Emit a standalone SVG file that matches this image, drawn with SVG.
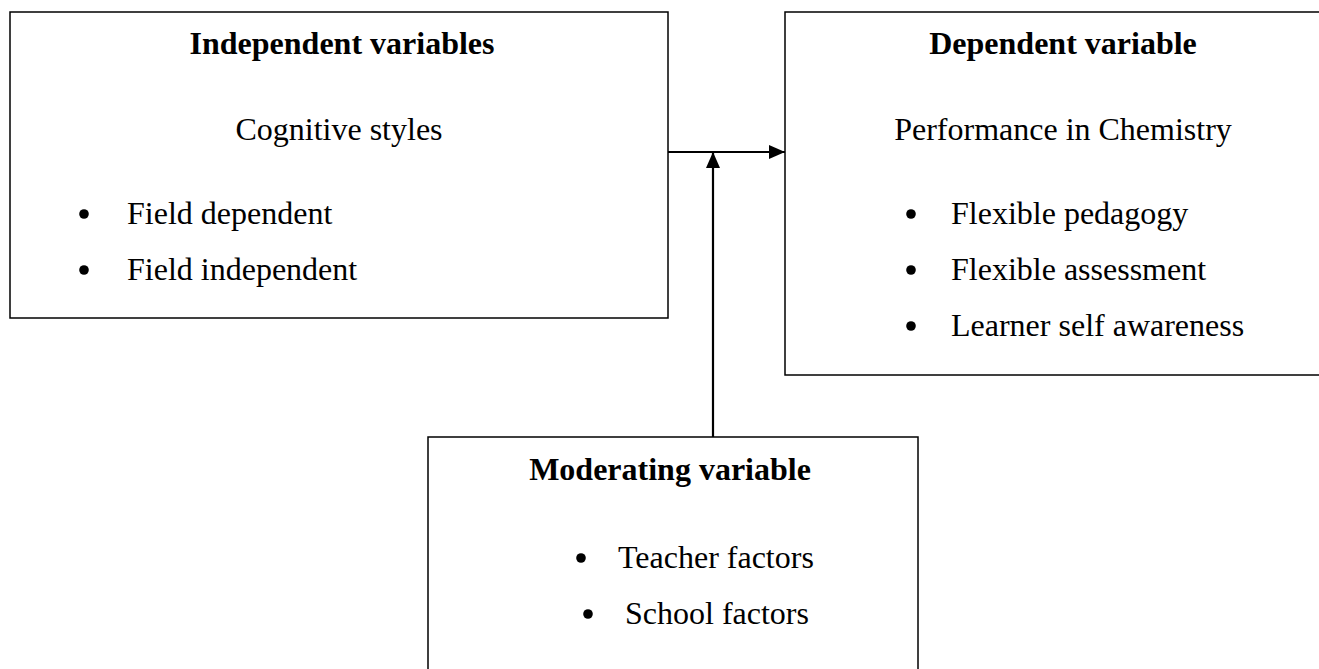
<svg xmlns="http://www.w3.org/2000/svg" width="1319" height="669" viewBox="0 0 1319 669">
<defs>
<style>
.box{fill:#fff;stroke:#000;stroke-width:1.5}
.t{font-family:"Liberation Serif","Times New Roman",serif;font-size:32px;fill:#000}
.h{font-weight:bold;text-anchor:middle}
.c{text-anchor:middle}
.line{stroke:#000;stroke-width:2.2;fill:none}
</style>
<marker id="arr" viewBox="0 0 16 14" refX="16" refY="7" markerWidth="16" markerHeight="14" markerUnits="userSpaceOnUse" orient="auto">
<path d="M0,0 L16,7 L0,14 z" fill="#000"/>
</marker>
</defs>
<rect width="1319" height="669" fill="#fff"/>
<g id="independent">
<rect class="box" x="10" y="12" width="658" height="306"/>
<text class="t h" x="342" y="54">Independent variables</text>
<text class="t c" x="339" y="140">Cognitive styles</text>
<circle cx="84" cy="214" r="4.8"/>
<text class="t" x="127" y="224">Field dependent</text>
<circle cx="84" cy="270" r="4.8"/>
<text class="t" x="127" y="280">Field independent</text>
</g>
<g id="dependent">
<rect class="box" x="785" y="12" width="545" height="363"/>
<text class="t h" x="1063" y="54">Dependent variable</text>
<text class="t c" x="1063" y="140">Performance in Chemistry</text>
<circle cx="911" cy="214" r="4.8"/>
<text class="t" x="951" y="224">Flexible pedagogy</text>
<circle cx="911" cy="270" r="4.8"/>
<text class="t" x="951" y="280">Flexible assessment</text>
<circle cx="911" cy="326" r="4.8"/>
<text class="t" x="951" y="336">Learner self awareness</text>
</g>
<g id="moderating">
<rect class="box" x="428" y="437" width="490" height="250"/>
<text class="t h" x="670" y="480">Moderating variable</text>
<circle cx="581" cy="558" r="4.8"/>
<text class="t" x="618" y="568">Teacher factors</text>
<circle cx="588" cy="614" r="4.8"/>
<text class="t" x="625" y="624">School factors</text>
</g>
<g id="connectors">
<line class="line" x1="668" y1="152" x2="785" y2="152" marker-end="url(#arr)"/>
<line class="line" x1="713" y1="437" x2="713" y2="152" marker-end="url(#arr)"/>
</g>
</svg>
